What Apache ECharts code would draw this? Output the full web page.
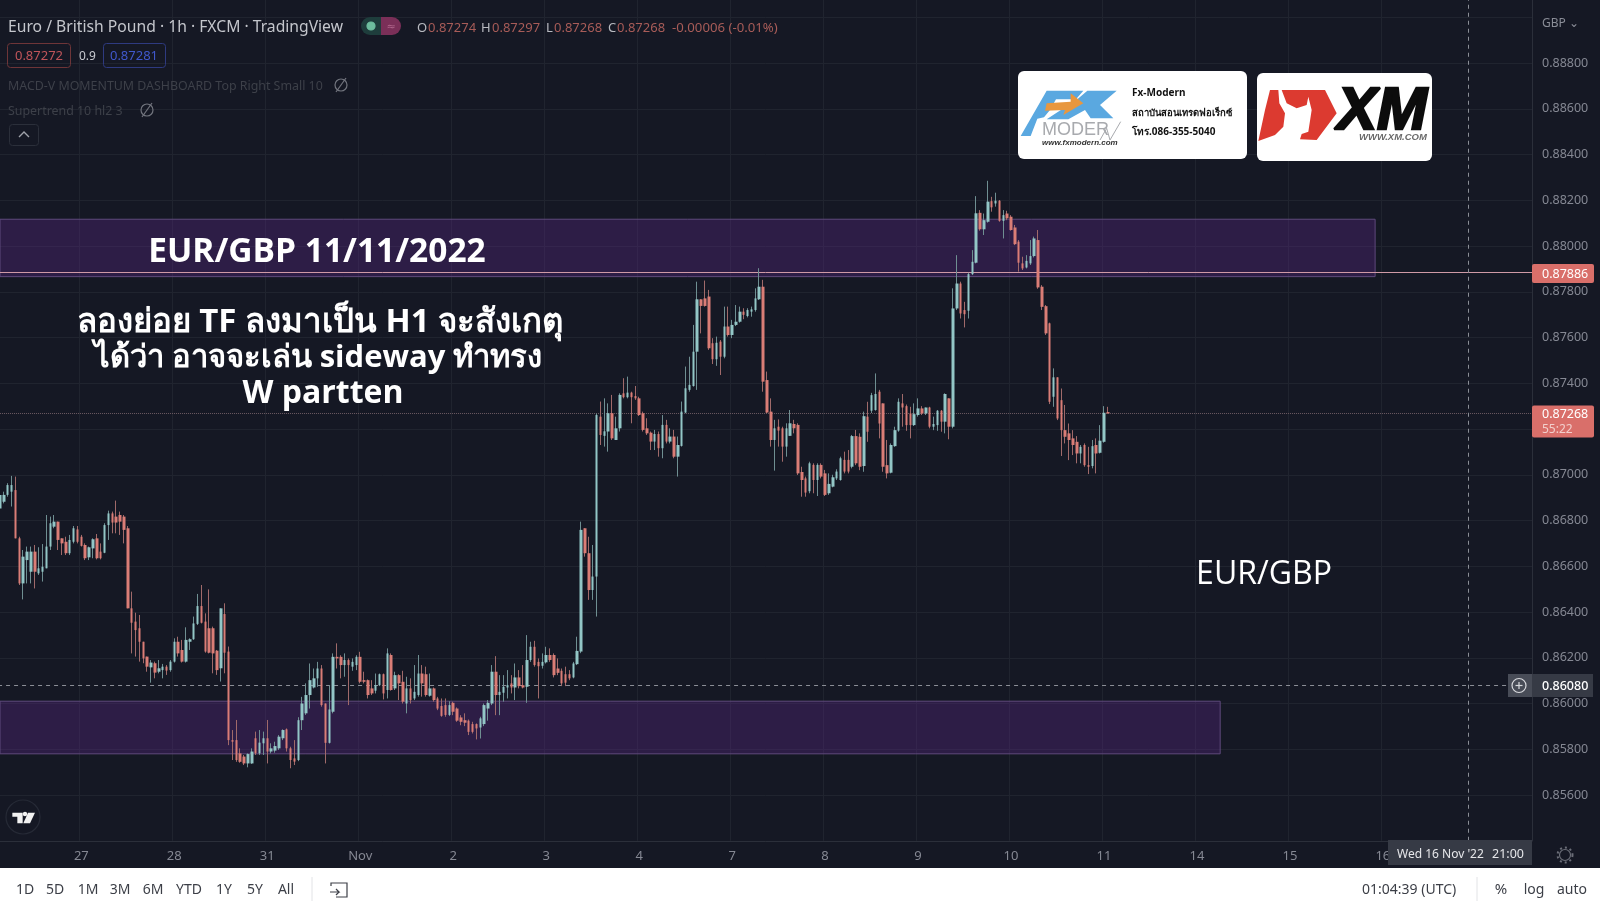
<!DOCTYPE html>
<html><head><meta charset="utf-8"><title>EUR/GBP</title>
<style>html,body{margin:0;padding:0;background:#151824;overflow:hidden}#c{width:1600px;height:908px;filter:blur(0.4px)}</style>
<script src="https://cdn.jsdelivr.net/npm/echarts@6/dist/echarts.min.js"></script>
</head><body><div id="c"></div>
<script>
// Prices are in 1/100000 GBP. Each bar: [open, high, low, close]
const oct26=[[86853,86919,86846,86912],[86882,86926,86875,86912],[86912,86963,86904,86955],[86926,86995,86861,86955],[86933,86992,86722,86722],[86722,86729,86518,86525],[86525,86671,86455,86642],[86627,86686,86525,86664],[86576,86686,86525,86664],[86664,86693,86503,86576],[86569,86683,86562,86591],[86576,86697,86533,86598],[86591,86824,86591,86686],[86686,86817,86671,86788],[86773,86824,86766,86795],[86795,86795,86671,86715],[86722,86722,86649,86700],[86707,86729,86649,86657],[86657,86737,86649,86715],[86707,86776,86700,86766],[86761,86776,86700,86707]];
const oct27=[[86729,86737,86686,86689],[86693,86700,86627,86635],[86639,86686,86627,86683],[86678,86722,86635,86718],[86722,86741,86630,86635],[86664,86700,86630,86635],[86659,86788,86657,86780],[86780,86843,86715,86831],[86831,86839,86744,86791],[86817,86887,86744,86791],[86824,86839,86737,86795],[86817,86824,86700,86759],[86766,86776,86416,86416],[86416,86489,86219,86353],[86358,86397,86205,86321],[86329,86387,86183,86270],[86270,86270,86176,86197],[86205,86205,86139,86161],[86158,86190,86091,86179],[86176,86183,86110,86135],[86139,86190,86132,86154],[86146,86173,86110,86161],[86161,86168,86125,86144],[86146,86190,86139,86183]];
const oct28=[[86183,86285,86179,86270],[86270,86292,86205,86219],[86234,86278,86179,86183],[86183,86333,86179,86278],[86270,86285,86234,86281],[86281,86380,86278,86350],[86348,86479,86343,86426],[86426,86518,86350,86353],[86358,86394,86222,86227],[86329,86499,86219,86222],[86329,86336,86132,86219],[86231,86234,86125,86146],[86154,86416,86096,86416],[86391,86438,86132,86222],[86227,86249,85818,85840],[85840,85884,85753,85833],[85840,85928,85745,85753],[85782,85804,85741,85745],[85768,85775,85731,85738],[85738,85782,85721,85779],[85738,85804,85736,85790],[85848,85877,85775,85782],[85782,85884,85775,85829],[85826,85877,85775,85848]];
const oct31=[[85848,85928,85738,85790],[85790,85826,85782,85804],[85794,85833,85785,85814],[85804,85862,85797,85855],[85848,85887,85840,85884],[85887,85891,85790,85804],[85804,85811,85717,85753],[85760,85840,85731,85746],[85753,85940,85748,85927],[85927,86029,85884,86000],[85957,86088,85950,86037],[86037,86175,85978,86102],[86070,86153,86066,86110],[86110,86182,86073,86153],[86153,86168,85986,85993],[86000,86000,85738,85828],[85828,86080,85825,85974],[85964,86219,85957,86204],[86204,86263,86153,86197],[86204,86211,86110,86168],[86168,86219,86117,86190],[86190,86197,85993,86168],[86161,86197,86143,86182],[86168,86211,86146,86204]];
const nov1=[[86204,86226,86088,86095],[86102,86139,86088,86095],[86102,86105,86022,86037],[86066,86102,86037,86044],[86056,86131,86044,86080],[86080,86131,86076,86128],[86128,86131,86018,86044],[86059,86241,86022,86219],[86212,86219,86056,86059],[86066,86139,86059,86124],[86124,86128,86015,86088],[86095,86143,86000,86008],[86000,86117,85957,86066],[86066,86110,86000,86015],[86022,86168,86015,86051],[86037,86212,86030,86131],[86131,86168,86030,86088],[86128,86161,86030,86037],[86034,86131,86030,86066],[86066,86070,86008,86015],[86022,86029,85971,85978],[85989,86022,85942,85946],[85993,86022,85942,85950],[85950,86010,85945,85993]];
const nov2=[[86003,86008,85949,85964],[85978,85983,85920,85925],[85939,85949,85905,85920],[85927,85957,85901,85916],[85925,85930,85862,85876],[85910,85920,85869,85876],[85910,85913,85843,85891],[85895,85942,85847,85935],[85910,86000,85901,85993],[85978,86015,85925,86003],[86000,86168,85993,86139],[86139,86207,85949,86037],[86037,86124,85949,86051],[86047,86124,86008,86073],[86070,86146,86022,86080],[86088,86124,86044,86070],[86070,86175,86015,86114],[86114,86146,86066,86076],[86080,86168,86066,86070],[86073,86299,86003,86190],[86190,86270,86182,86248],[86248,86274,86161,86168],[86182,86197,86022,86163],[86165,86219,86153,86182]];
const nov3=[[86180,86248,86175,86212],[86212,86241,86182,86190],[86212,86219,86114,86124],[86153,86197,86124,86134],[86143,86153,86076,86088],[86128,86161,86076,86091],[86128,86146,86102,86110],[86114,86182,86110,86175],[86172,86292,86168,86230],[86227,86795,86220,86759],[86766,86766,86642,86657],[86657,86729,86453,86496],[86496,86693,86453,86555],[86555,87268,86380,87261],[87254,87320,87130,87174],[87170,87334,87123,87190],[87189,87312,87101,87269],[87269,87349,87152,87159],[87152,87254,87152,87203],[87203,87356,87189,87349],[87356,87422,87334,87339],[87339,87429,87334,87359],[87359,87363,87225,87339],[87344,87388,87327,87334]];
const nov4=[[87334,87341,87257,87261],[87269,87276,87189,87196],[87203,87247,87174,87181],[87184,87189,87108,87145],[87145,87196,87108,87178],[87178,87189,87079,87116],[87116,87261,87072,87218],[87218,87240,87137,87145],[87145,87203,87137,87167],[87167,87196,87072,87079],[87079,87167,86992,87130],[87126,87320,87123,87276],[87272,87473,87269,87378],[87371,87516,87363,87393],[87388,87655,87385,87538],[87538,87844,87371,87767],[87767,87767,87618,87738],[87771,87849,87735,87738],[87779,87808,87546,87553],[87575,87597,87484,87505],[87505,87604,87476,87577],[87582,87589,87436,87516],[87516,87735,87509,87648],[87648,87735,87604,87611]];
const nov7=[[87611,87677,87597,87655],[87655,87742,87650,87669],[87669,87735,87665,87713],[87713,87728,87680,87699],[87694,87728,87688,87720],[87713,87735,87691,87723],[87720,87815,87713,87771],[87767,87903,87764,87822],[87822,87852,87363,87407],[87414,87451,87269,87272],[87276,87334,87123,87152],[87152,87240,87018,87203],[87210,87242,87123,87193],[87203,87210,87057,87123],[87123,87225,87079,87203],[87170,87283,87170,87225],[87222,87240,87181,87203],[87218,87225,86999,87006],[87012,87035,86904,86977],[86984,86992,86904,86922],[86928,87057,86919,87050],[87043,87050,86919,86977],[86977,87050,86907,87043],[87043,87050,86984,86992]];
const nov8=[[87006,87021,86907,86912],[86919,87006,86912,86960],[86948,87000,86945,86989],[86984,87024,86977,87014],[86977,87079,86974,87072],[87065,87101,87006,87014],[87065,87108,87006,87014],[87035,87174,87028,87169],[87169,87196,87042,87050],[87166,87181,87020,87035],[87038,87276,87013,87256],[87254,87319,87144,87188],[87280,87358,87270,87348],[87283,87443,87280,87353],[87363,87371,87159,87224],[87312,87312,87013,87035],[87042,87152,86984,87006],[87009,87137,87006,87130],[87125,87210,87122,87195],[87193,87334,87188,87319],[87312,87353,87210,87294],[87300,87307,87192,87217],[87268,87297,87159,87217],[87217,87312,87213,87265]];
const nov9=[[87261,87334,87254,87290],[87290,87300,87261,87268],[87268,87294,87261,87294],[87294,87297,87203,87210],[87210,87254,87195,87222],[87217,87283,87192,87280],[87280,87283,87188,87232],[87232,87356,87181,87353],[87334,87334,87155,87210],[87210,87815,87203,87727],[87727,87960,87720,87836],[87836,87844,87683,87705],[87720,87756,87644,87702],[87717,87883,87683,87877],[87877,87982,87873,87931],[87927,88218,87924,88143],[88145,88157,88067,88073],[88073,88142,88048,88113],[88106,88285,88102,88194],[88196,88215,88150,88169],[88186,88233,88172,88198],[88198,88201,88106,88110],[88110,88157,88033,88135],[88142,88154,88113,88121]];
const nov10=[[88128,88135,88067,88070],[88081,88092,88004,88008],[88019,88026,87888,87927],[87924,87953,87895,87902],[87906,87960,87902,87935],[87924,88026,87917,87956],[87956,88041,87950,88033],[88026,88070,87813,87819],[87822,87829,87720,87734],[87737,87742,87611,87618],[87662,87665,87309,87319],[87341,87465,87297,87426],[87426,87426,87239,87246],[87326,87377,87082,87195],[87195,87305,87137,87166],[87181,87224,87064,87152],[87159,87195,87086,87130],[87144,87169,87050,87093],[87093,87130,87050,87122],[87130,87137,87035,87042],[87042,87122,87003,87035],[87038,87152,87028,87125],[87130,87159,87006,87093],[87096,87217,87093,87149]];
const nov11=[[87144,87300,87140,87271],[87274,87297,87268,87268]];
const dayLabels=['27','28','31','Nov','2','3','4','7','8','9','10','11','14','15','16'];
const firstLabelBar=21, barsPerDay=24, barSlots=396;
const priceTicks=[0.85600,0.85800,0.86000,0.86200,0.86400,0.86600,0.86800,0.87000,0.87200,0.87400,0.87600,0.87800,0.88000,0.88200,0.88400,0.88600,0.88800];
const upperZone=[0.88117,0.87866], lowerZone=[0.86010,0.85780];
const lastPrice=0.87268, levelPrice=0.87886, crossPrice=0.86080;

const allBars=[].concat(oct26,oct27,oct28,oct31,nov1,nov2,nov3,nov4,nov7,nov8,nov9,nov10,nov11);
const categories=Array.from({length:barSlots},(_, i)=>{
  const k=(i-firstLabelBar)/barsPerDay;
  return Number.isInteger(k)&&k>=0&&k<dayLabels.length?dayLabels[k]:'';
});
const P=v=>v/100000;
const wicks=allBars.map(b=>[P(b[0]),P(b[3]),P(b[2]),P(b[1])]);
const bodies=allBars.map(b=>[P(b[0]),P(b[3]),Math.min(P(b[0]),P(b[3])),Math.max(P(b[0]),P(b[3]))]);

const UI='"Noto Sans","DejaVu Sans",sans-serif';
function T(x,y,text,size,fill,o){o=o||{};const s={x,y:y+1.5,text,fill,align:o.align||'left',verticalAlign:'middle',
  font:(o.weight||'normal')+' '+(o.italic?'italic ':'')+size+'px '+(o.family||UI)};
  if(o.stroke){s.stroke=o.stroke;s.lineWidth=o.sw||1;}
  return {type:'text',z:o.z||60,style:s};}
function R(x,y,w,h,fill,o){o=o||{};return {type:'rect',z:o.z||50,shape:{x,y,width:w,height:h,r:o.r||0},style:{fill:fill,stroke:o.stroke||null,lineWidth:o.lw||1}};}
function C(cx,cy,r,stroke,o){o=o||{};return {type:'circle',z:o.z||60,shape:{cx,cy,r},style:{fill:o.fill||'none',stroke,lineWidth:o.lw||1.2,lineDash:o.dash||null}};}
function L(a,b,c,d,stroke,lw){return {type:'line',z:60,shape:{x1:a,y1:b,x2:c,y2:d},style:{stroke,lineWidth:lw||1.2}};}
function PG(pts,fill,z){return {type:'polygon',z:z||60,shape:{points:pts},style:{fill}};}
function PL(pts,stroke,lw){return {type:'polyline',z:60,shape:{points:pts},style:{stroke,lineWidth:lw||1.2,fill:'none'}};}
const lz=p=>p.map(q=>[1000+q[0]/3,60+q[1]/3]);
const tz=p=>p.map(q=>[q[0]/3,790+q[1]/3]);

const HAND='"Open Sans","Noto Sans","DejaVu Sans",sans-serif';
const LS='"Liberation Sans",sans-serif';
const graphics=[
  T(8,26.5,'Euro / British Pound · 1h · FXCM · TradingView',15.7,'#c4c6cc'),
  R(361,17,20,18,'#1e3d3c',{r:[9,0,0,9]}),R(381,17,20,18,'#7a2f58',{r:[0,9,9,0]}),
  C(371,26,4,'#6dbd9e',{fill:'#6dbd9e'}),T(391,25,'≈',11,'#b0668c',{align:'center'}),
  T(417,26.5,'O',13,'#b8bac0'),T(428,26.5,'0.87274',13,'#a85c58'),
  T(481,26.5,'H',13,'#b8bac0'),T(492,26.5,'0.87297',13,'#a85c58'),
  T(546,26.5,'L',13,'#b8bac0'),T(554,26.5,'0.87268',13,'#a85c58'),
  T(608,26.5,'C',13,'#b8bac0'),T(617,26.5,'0.87268',13,'#a85c58'),
  T(672,26.5,'-0.00006 (-0.01%)',13.2,'#a85c58'),
  R(7.5,43.5,63,24,'none',{stroke:'#6e3538',r:3}),T(39,55,'0.87272',13,'#c0555a',{align:'center'}),
  T(79,55,'0.9',12,'#c8cad0'),
  R(103.5,43.5,62,24,'none',{stroke:'#2e3a80',r:3}),T(134,55,'0.87281',13,'#4058cc',{align:'center'}),
  T(8,84.5,'MACD-V MOMENTUM DASHBOARD Top Right Small 10',12.4,'#3d4049'),
  C(341,85,6,'#72757e'),L(336,92,346,78,'#72757e'),
  T(8,109.5,'Supertrend 10 hl2 3',12.4,'#3d4049'),
  C(147,110,6,'#72757e'),L(142,117,152,103,'#72757e'),
  R(9.5,124.5,29,21,'none',{stroke:'#2b2f3a',r:3}),PL([[19,137],[24,132],[29,137]],'#a0a3ab',1.4),
  R(1018,71,229,88,'#ffffff',{r:6}),
  PG(lz([[62,228],[140,92],[250,92],[228,118],[168,118],[150,150],[132,172],[112,176],[92,228]]),'#5aa8e0'),
  PG(lz([[262,92],[350,92],[300,135],[340,175],[272,175],[255,150],[205,178],[140,178],[232,118]]),'#5aa8e0'),
  PG(lz([[140,130],[212,125],[212,100],[250,130],[190,165],[195,150],[135,152]]),'#e8973f',61),
  T(1042,129,'MODER',18,'#a8aaae',{family:LS}),
  PL(lz([[300,240],[320,205],[330,240],[362,185]]),'#a8aaae',1),
  T(1042,141,'www.fxmodern.com',8,'#333333',{weight:'bold',italic:true,family:LS}),
  T(1132,92,'Fx-Modern',10,'#111111',{weight:'bold'}),
  T(1132,112,'สถาบันสอนเทรดฟอเร็กซ์',9.5,'#111111',{weight:'bold'}),
  T(1132,131,'โทร.086-355-5040',10,'#111111',{weight:'bold'}),
  R(1257,73,175,88,'#ffffff',{r:6}),
  PG(lz([[810,90],[835,90],[838,130],[855,160],[850,200],[825,225],[775,243],[795,150]]),'#dc3a30'),
  PG(lz([[845,90],[975,90],[1010,160],[950,240],[900,238],[905,222],[925,215],[935,150],[925,110],[920,135],[890,145],[860,130]]),'#dc3a30'),
  T(1337,111,'XM',60,'#0c0c0c',{weight:'bold',italic:true,family:LS,stroke:'#0c0c0c',sw:2.5}),
  T(1359,136,'WWW.XM.COM',9.5,'#6a6a6a',{weight:'bold',italic:true,family:LS}),
  T(317,251,'EUR/GBP 11/11/2022',33.5,'#ffffff',{weight:'bold',align:'center',family:HAND}),
  T(320,321,'ลองย่อย TF ลงมาเป็น H1 จะสังเกตุ',33,'#ffffff',{weight:'bold',align:'center',family:HAND}),
  T(318,357,'ได้ว่า อาจจะเล่น sideway ทำทรง',31,'#ffffff',{weight:'bold',align:'center',family:HAND}),
  T(323,392,'W partten',32,'#ffffff',{weight:'bold',align:'center',family:HAND}),
  T(1264,573,'EUR/GBP',32,'#ffffff',{align:'center',family:HAND}),
  T(1542,22,'GBP ⌄',12,'#8a8d97'),
  R(1532,264,62,19,'#d96f6a',{r:2}),T(1542,272.5,'0.87886',12.5,'#ffffff'),
  R(1532,405.5,62,32,'#d96f6a',{r:2}),T(1542,413,'0.87268',12.5,'#ffffff'),T(1542,428,'55:22',12,'#f2cfcc'),
  R(1508,674,24,23,'#484c57'),R(1532,674,61,23,'#363a45'),C(1519,685.5,7,'#d8d9dd'),
  L(1515.5,685.5,1522.5,685.5,'#d8d9dd'),L(1519,682,1519,689,'#d8d9dd'),
  T(1542,684.5,'0.86080',12.5,'#ffffff',{weight:'500'}),
  R(1388,840,144,25,'#363a45'),T(1397,853,"Wed 16 Nov '22",12,'#e6e7ea'),T(1492,853,'21:00',12.5,'#e6e7ea'),
  C(1565,855,5.5,'#6b6e78',{lw:1.2}),C(1565,855,7.5,'#6b6e78',{lw:2,dash:[2,3]}),
  C(23,817,17,'#262a36',{lw:1.2}),
  PG(tz([[37,68],[68,68],[68,100],[52,100],[52,80],[37,80]]),'#f2f2f2'),C(25,814,1.6,'#f2f2f2',{fill:'#f2f2f2'}),
  PG(tz([[84,68],[105,68],[90,100],[70,100]]),'#f2f2f2'),
  R(0,868,1600,40,'#ffffff',{z:55}),
  ...[['1D',25],['5D',55],['1M',88],['3M',120],['6M',153],['YTD',189],['1Y',224],['5Y',255],['All',286]].map(a=>T(a[1],888.5,a[0],14,'#3c3f47',{align:'center'})),
  L(312,877,312,901,'#e2e3e6',1),
  PL([[331,886],[331,883],[347,883],[347,897],[336,897]],'#3c3f47',1.2),PL([[330,892],[339,892],[336,889]],'#3c3f47',1.2),PL([[339,892],[336,895]],'#3c3f47',1.2),
  T(1362,888.5,'01:04:39 (UTC)',14,'#3c3f47'),L(1477,877,1477,901,'#e2e3e6',1),
  T(1501,888.5,'%',15,'#3c3f47',{align:'center'}),T(1534,888.5,'log',14,'#3c3f47',{align:'center'}),T(1572,888.5,'auto',14,'#3c3f47',{align:'center'})
];

const chart=echarts.init(document.getElementById('c'),null,{renderer:'canvas'});
chart.setOption({
  animation:false,backgroundColor:'#151824',
  grid:{left:-1.94,width:1533.94,top:-28.5,height:869.25,containLabel:false,outerBoundsMode:'none'},
  xAxis:{type:'category',data:categories,boundaryGap:true,
    axisLine:{show:true,lineStyle:{color:'#2b2f3a'}},axisTick:{show:false},
    axisLabel:{show:true,interval:(i,v)=>v!=='',color:'#858893',fontSize:13,fontFamily:UI,margin:9,hideOverlap:false},
    splitLine:{show:true,interval:(i,v)=>v!=='',lineStyle:{color:'#20242f',width:1}}},
  yAxis:{type:'value',position:'right',min:0.854,max:0.892,interval:0.002,scale:true,
    axisLine:{show:true,onZero:false,lineStyle:{color:'#2b2f3a'}},axisTick:{show:false},
    axisLabel:{color:'#858893',fontSize:12.5,fontFamily:UI,margin:10,align:'left',padding:[2,0,0,0],
      formatter:v=>priceTicks.some(t=>Math.abs(t-v)<1e-6)?v.toFixed(5):''},
    splitLine:{show:true,lineStyle:{color:'#20242f',width:1}}},
  series:[
    {name:'wicks',type:'candlestick',data:wicks,barWidth:1,silent:true,z:3,
     itemStyle:{color:'#6f8f92',color0:'#a06a6a',borderColor:'#6f8f92',borderColor0:'#a06a6a',borderWidth:1}},
    {name:'bodies',type:'candlestick',data:bodies,barWidth:3,silent:true,z:4,
     itemStyle:{color:'#93c6c6',color0:'#da7d76',borderColor:'#93c6c6',borderColor0:'#da7d76',borderWidth:0},
     markArea:{silent:true,z:1,itemStyle:{color:'rgba(88,40,130,0.36)',borderColor:'#5f4a7c',borderWidth:1},
       data:[[{xAxis:0,yAxis:upperZone[0]},{xAxis:355,yAxis:upperZone[1]}],[{xAxis:0,yAxis:lowerZone[0]},{xAxis:315,yAxis:lowerZone[1]}]]},
     markLine:{silent:true,symbol:'none',z:2,precision:5,label:{show:false},data:[
       {yAxis:levelPrice,lineStyle:{color:'#cf9aa6',type:'solid',width:1}},
       {yAxis:lastPrice,lineStyle:{color:'#6d5b62',type:'dotted',width:1}},
       {yAxis:crossPrice,lineStyle:{color:'#8b8e96',type:[4,4],width:1}},
       {xAxis:379,lineStyle:{color:'#8b8e96',type:[4,4],width:1}}]}}
  ],
  graphic:{elements:graphics}
});
</script></body></html>
